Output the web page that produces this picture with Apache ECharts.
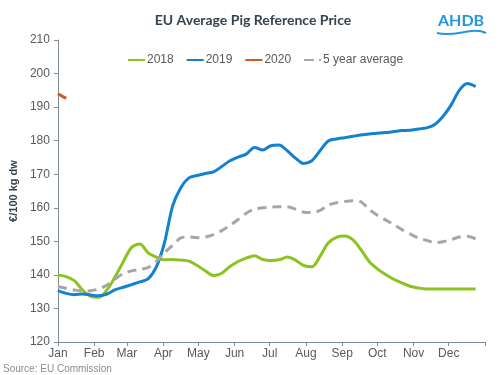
<!DOCTYPE html>
<html>
<head>
<meta charset="utf-8">
<script src="https://cdn.jsdelivr.net/npm/echarts@6/dist/echarts.min.js"></script>
<style>
  html, body { margin: 0; padding: 0; background: #fff; }
  #chart { width: 500px; height: 375px; }
</style>
</head>
<body>
<div id="chart"></div>
<script>
// week numbers of the year (1..52), plotted on a day-of-year axis
const weeks = [1,2,3,4,5,6,7,8,9,10,11,12,13,14,15,16,17,18,19,20,21,22,23,24,25,26,
  27,28,29,30,31,32,33,34,35,36,37,38,39,40,41,42,43,44,45,46,47,48,49,50,51,52];

const price2018 = [140,139.5,138.3,135.5,133.6,133.3,135.6,139.5,144,148.2,149.2,146.6,145.3,144.5,
  144.6,144.4,144.1,142.8,141.2,139.8,140.5,142.5,144,145,145.7,144.6,144.3,144.5,145.3,144.4,
  142.8,142.4,145.5,149.5,151.2,151.6,150.5,147.5,144,141.8,140.1,138.7,137.6,136.6,136.1,135.8,
  135.8,135.8,135.8,135.8,135.8,135.8];
const price2019 = [135.3,134.5,134.1,134.3,134,133.8,134.3,135.6,136.3,137.1,137.9,138.8,142.3,149.5,
  160.5,166,168.9,169.6,170.2,170.7,172.3,174,175.1,176,178,177.2,178.5,178.7,177,174.8,173.2,
  174,177,179.9,180.5,180.9,181.3,181.7,182,182.2,182.4,182.7,183,183.1,183.5,183.8,184.8,187.2,
  190.6,195,197,196.1];
const price2020 = [194,192.6];
const avg5yr = [136.5,136,135.5,135.2,135.3,135.8,137,138.8,140.4,141.2,141.6,142.2,144,146.5,148.8,
  151,151.3,151.1,151.3,152,153.2,154.7,156.5,158.4,159.6,160,160.2,160.3,160.3,159.6,158.7,158.6,
  159.2,160.8,161.5,161.9,162.1,161.8,159.5,157.8,156.4,155,153.5,152.2,151,150.3,149.6,149.9,
  150.5,151.3,151.5,150.7];

const monthNames = ['Jan','Feb','Mar','Apr','May','Jun','Jul','Aug','Sep','Oct','Nov','Dec'];
const monthStartDay = [0,31,59,90,120,151,181,212,243,273,304,334];
const yearEndDay = 365;

const font = "'Liberation Sans',Arial,sans-serif";
const toPoints = vals => vals.map((v, i) => [(weeks[i] - 1) * 7, v]);

const chart = echarts.init(document.getElementById('chart'));
chart.setOption({
  animation: false,
  title: {
    text: 'EU Average Pig Reference Price',
    left: 248,
    textAlign: 'center',
    top: 8,
    textStyle: { fontSize: 14, fontWeight: 'bold', color: '#36434f', fontFamily: 'Lato, sans-serif' }
  },
  legend: {
    data: ['2018', '2019', '2020', '5 year average'],
    top: 54,
    left: 127,
    padding: 0,
    itemWidth: 17,
    itemHeight: 3,
    itemGap: 12,
    textStyle: { fontSize: 12, color: '#595959', fontFamily: font, padding: [0, 0, 0, -3] }
  },
  grid: { left: 45, right: 15, top: 40, bottom: 33 },
  xAxis: {
    type: 'value',
    min: 0,
    max: yearEndDay,
    splitLine: { show: false },
    axisLine: { lineStyle: { color: '#7f8c99', width: 1 } },
    axisTick: { show: true, length: 4, lineStyle: { color: '#7f8c99' },
      customValues: monthStartDay.concat([yearEndDay]) },
    axisLabel: {
      customValues: monthStartDay,
      fontSize: 12, color: '#595959', fontFamily: font, margin: 6,
      formatter: v => monthNames[monthStartDay.indexOf(v)]
    }
  },
  yAxis: {
    type: 'value',
    min: 120,
    max: 210,
    interval: 10,
    name: '€/100 kg dw',
    nameLocation: 'middle',
    nameGap: 33,
    nameTextStyle: { fontSize: 11, fontWeight: 'bold', color: '#36434f', fontFamily: font },
    splitLine: { show: false },
    axisLine: { show: true, lineStyle: { color: '#7f8c99', width: 1 } },
    axisTick: { show: true, length: 4, lineStyle: { color: '#7f8c99' } },
    axisLabel: { fontSize: 12, color: '#595959', fontFamily: font, margin: 8 }
  },
  series: [
    {
      name: '2018', type: 'line', data: toPoints(price2018), symbol: 'none', smooth: 0.3,
      lineStyle: { color: '#8cc320', width: 3 }, itemStyle: { color: '#8cc320' }
    },
    {
      name: '2019', type: 'line', data: toPoints(price2019), symbol: 'none', smooth: 0.3,
      lineStyle: { color: '#1481d0', width: 3 }, itemStyle: { color: '#1481d0' }
    },
    {
      name: '2020', type: 'line', data: toPoints(price2020), symbol: 'none',
      lineStyle: { color: '#d9561c', width: 3 }, itemStyle: { color: '#d9561c' }
    },
    {
      name: '5 year average', type: 'line', data: toPoints(avg5yr), symbol: 'none', smooth: 0.3,
      lineStyle: { color: '#a6a6a6', width: 3, type: [9, 6] }, itemStyle: { color: '#a6a6a6' }
    }
  ],
  graphic: [
    {
      type: 'text', left: 438, top: 13,
      style: { text: 'AHDB', fontSize: 16, fontWeight: 'bold', fill: '#2596dc', fontFamily: 'Lato, sans-serif' }
    },
    {
      type: 'bezierCurve',
      shape: { x1: 437, y1: 33, x2: 486, y2: 33, cpx1: 455, cpy1: 38, cpx2: 472, cpy2: 26 },
      style: { stroke: '#2596dc', lineWidth: 2, fill: null }
    },
    {
      type: 'text', left: 3, top: 364,
      style: { text: 'Source: EU Commission', fontSize: 10, fill: '#8c8c8c', fontFamily: font }
    }
  ]
});
</script>
</body>
</html>
